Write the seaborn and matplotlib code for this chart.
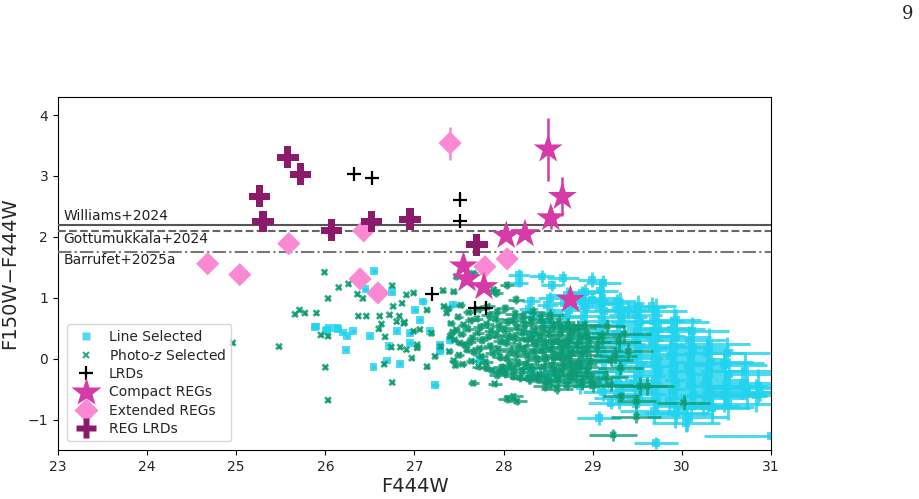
import matplotlib
matplotlib.use("Agg")
import matplotlib.pyplot as plt
from matplotlib.lines import Line2D
import seaborn as sns
import pandas as pd

# ---------------- data ----------------
# Line-selected sample (cyan squares)
line_x = [25.88, 25.90, 26.01, 26.02, 26.04, 26.13, 26.14, 26.20,
          26.23, 26.24, 26.31, 26.45, 26.50, 26.54, 26.55, 26.69,
          26.71, 26.75, 26.80, 26.84, 26.95, 26.95, 27.01, 27.06,
          27.10, 27.17, 27.23, 27.29, 27.29, 27.40, 27.43, 27.74,
          28.00, 28.17, 28.17, 28.43, 28.54, 28.67, 28.99, 29.08,
          28.88, 28.99, 29.12, 29.27, 29.40, 29.66, 29.94, 29.64,
          29.20, 29.07, 29.71, 31.00, 29.94, 30.05, 30.24, 30.34, 30.50, 30.73, 30.88, 30.47, 30.13,
          28.31, 28.28, 28.33, 28.30, 28.27, 28.34,
          28.52, 28.49, 28.53, 28.48, 28.51, 28.55, 28.50,
          28.71, 28.68, 28.73, 28.70, 28.66, 28.72, 28.69, 28.74, 28.71,
          28.91, 28.88, 28.93, 28.90, 28.87, 28.92, 28.89, 28.94, 28.90, 28.86,
          29.11, 29.08, 29.13, 29.10, 29.07, 29.12, 29.09, 29.14, 29.10, 29.06, 29.12,
          29.31, 29.28, 29.33, 29.30, 29.27, 29.32, 29.29, 29.34, 29.30, 29.26, 29.32, 29.29,
          29.51, 29.48, 29.53, 29.50, 29.47, 29.52, 29.49, 29.54, 29.50, 29.46, 29.52, 29.49,
          29.71, 29.68, 29.73, 29.70, 29.67, 29.72, 29.69, 29.74, 29.70, 29.66, 29.72, 29.69,
          29.91, 29.88, 29.93, 29.90, 29.87, 29.92, 29.89, 29.94, 29.90, 29.86, 29.92,
          30.11, 30.08, 30.13, 30.10, 30.07, 30.12, 30.09, 30.14, 30.10, 30.06,
          30.31, 30.28, 30.33, 30.30, 30.27, 30.32, 30.29, 30.34,
          30.51, 30.48, 30.53, 30.50, 30.47, 30.52,
          30.71, 30.68, 30.73,
          30.86, 30.83]
line_y = [0.52, 0.53, 0.46, 0.48, 0.50, 0.50, 0.49, 0.43,
          0.15, 0.37, 0.45, 1.14, 0.37, -0.14, 1.44, -0.03,
          0.21, 1.09, 0.46, -0.08, 0.42, 0.26, 0.80, 0.64,
          0.94, 0.45, -0.43, 0.23, 0.12, 0.31, 0.89, -0.02,
          -0.18, 1.38, 1.25, 1.35, 1.21, 1.32, 1.30, 1.12,
          1.08, 0.97, 1.24, 0.94, 0.80, 0.86, 0.64, 0.37,
          -0.73, -0.97, -1.38, -1.27, -0.89, -1.06, -0.78, -0.81, -0.62, -0.48, -0.54, -0.07, 0.20,
          0.95, 0.82, 0.70, 0.40, -0.15, -0.25,
          1.00, 0.88, 0.75, 0.60, 0.20, -0.20, -0.30,
          1.05, 0.92, 0.80, 0.68, 0.50, 0.30, 0.10, -0.10, -0.35,
          1.10, 0.95, 0.85, 0.70, 0.55, 0.35, 0.15, -0.05, -0.25, -0.45,
          1.00, 0.90, 0.78, 0.62, 0.45, 0.30, 0.15, 0.00, -0.20, -0.40, -0.55,
          0.92, 0.80, 0.68, 0.55, 0.40, 0.25, 0.10, -0.05, -0.20, -0.38, -0.52, -0.65,
          0.85, 0.72, 0.60, 0.45, 0.30, 0.18, 0.02, -0.12, -0.28, -0.42, -0.58, -0.75,
          0.78, 0.62, 0.50, 0.38, 0.22, 0.08, -0.05, -0.20, -0.35, -0.50, -0.65, -0.85,
          0.60, 0.48, 0.35, 0.20, 0.05, -0.10, -0.25, -0.40, -0.55, -0.70, -0.90,
          0.45, 0.30, 0.15, 0.00, -0.15, -0.30, -0.45, -0.60, -0.78, -0.95,
          0.25, 0.10, -0.05, -0.20, -0.35, -0.50, -0.65, -0.80,
          0.10, -0.10, -0.25, -0.45, -0.60, -0.75,
          -0.20, -0.40, -0.55,
          -0.45, -0.60]
line_xerr = [0.02, 0.02, 0.02, 0.02, 0.02, 0.02, 0.02, 0.02,
             0.02, 0.02, 0.02, 0.03, 0.02, 0.02, 0.03, 0.02,
             0.02, 0.03, 0.03, 0.03, 0.03, 0.03, 0.03, 0.03,
             0.04, 0.03, 0.04, 0.04, 0.04, 0.05, 0.05, 0.06,
             0.08, 0.12, 0.10, 0.14, 0.12, 0.18, 0.16, 0.20,
             0.15, 0.18, 0.20, 0.22, 0.24, 0.28, 0.27, 0.26,
             0.25, 0.25, 0.25, 0.75, 0.35, 0.38, 0.40, 0.42, 0.45, 0.50, 0.55, 0.45, 0.40,
             0.10, 0.11, 0.10, 0.12, 0.09, 0.10,
             0.13, 0.12, 0.14, 0.12, 0.13, 0.12, 0.14,
             0.16, 0.15, 0.17, 0.16, 0.15, 0.17, 0.16, 0.15, 0.17,
             0.19, 0.20, 0.18, 0.21, 0.19, 0.20, 0.18, 0.21, 0.20, 0.19,
             0.22, 0.24, 0.23, 0.21, 0.25, 0.22, 0.24, 0.23, 0.22, 0.25, 0.23,
             0.27, 0.26, 0.28, 0.25, 0.29, 0.27, 0.26, 0.28, 0.27, 0.29, 0.26, 0.28,
             0.31, 0.30, 0.33, 0.29, 0.32, 0.31, 0.30, 0.33, 0.31, 0.32, 0.30, 0.34,
             0.35, 0.34, 0.36, 0.33, 0.37, 0.35, 0.34, 0.36, 0.35, 0.37, 0.34, 0.38,
             0.39, 0.38, 0.40, 0.37, 0.41, 0.39, 0.38, 0.40, 0.39, 0.41, 0.42,
             0.42, 0.41, 0.44, 0.40, 0.43, 0.42, 0.41, 0.44, 0.42, 0.45,
             0.45, 0.44, 0.47, 0.43, 0.46, 0.45, 0.44, 0.47,
             0.48, 0.47, 0.50, 0.46, 0.49, 0.48,
             0.50, 0.49, 0.52,
             0.53, 0.52]
line_yerr = [0.03, 0.03, 0.03, 0.03, 0.03, 0.03, 0.03, 0.03,
             0.03, 0.03, 0.03, 0.04, 0.03, 0.03, 0.04, 0.03,
             0.03, 0.04, 0.04, 0.04, 0.04, 0.04, 0.04, 0.04,
             0.05, 0.04, 0.05, 0.05, 0.05, 0.06, 0.06, 0.06,
             0.07, 0.10, 0.08, 0.10, 0.09, 0.12, 0.13, 0.12,
             0.11, 0.12, 0.14, 0.13, 0.14, 0.15, 0.18, 0.16,
             0.10, 0.12, 0.10, 0.05, 0.18, 0.14, 0.16, 0.15, 0.18, 0.15, 0.16, 0.15, 0.18,
             0.08, 0.09, 0.08, 0.09, 0.08, 0.08,
             0.10, 0.09, 0.11, 0.10, 0.09, 0.10, 0.11,
             0.12, 0.11, 0.13, 0.12, 0.11, 0.13, 0.12, 0.11, 0.12,
             0.13, 0.14, 0.12, 0.15, 0.13, 0.14, 0.12, 0.15, 0.14, 0.13,
             0.15, 0.16, 0.14, 0.17, 0.15, 0.16, 0.14, 0.17, 0.15, 0.16, 0.14,
             0.17, 0.16, 0.18, 0.17, 0.19, 0.16, 0.18, 0.17, 0.19, 0.16, 0.18, 0.17,
             0.19, 0.18, 0.20, 0.19, 0.21, 0.18, 0.20, 0.19, 0.21, 0.18, 0.20, 0.19,
             0.21, 0.20, 0.22, 0.21, 0.23, 0.20, 0.22, 0.21, 0.23, 0.20, 0.22, 0.21,
             0.23, 0.22, 0.24, 0.23, 0.25, 0.22, 0.24, 0.23, 0.25, 0.22, 0.24,
             0.24, 0.23, 0.25, 0.24, 0.26, 0.23, 0.25, 0.24, 0.26, 0.23,
             0.25, 0.24, 0.26, 0.25, 0.27, 0.24, 0.26, 0.25,
             0.26, 0.25, 0.27, 0.26, 0.28, 0.25,
             0.27, 0.26, 0.28,
             0.28, 0.27]

# Photo-z selected sample (green crosses)
photz_x = [24.96, 25.48, 25.66, 25.71, 25.77, 25.90, 25.95, 25.99,
           26.00, 26.03, 26.03, 26.03, 26.15, 26.26, 26.36, 26.37,
           26.42, 26.46, 26.60, 26.61, 26.63, 26.66, 26.67, 26.72,
           26.74, 26.75, 26.75, 26.76, 26.83, 26.84, 26.86, 26.89,
           26.91, 26.91, 26.97, 26.99, 26.99, 27.03, 27.03, 27.06,
           27.14, 27.14, 27.19, 27.23, 27.29, 27.32, 27.33, 27.36,
           27.40, 27.44, 27.46, 27.47, 27.47, 27.51, 27.59, 27.66,
           27.66, 27.81, 27.89, 27.90, 27.92, 27.96, 28.04, 28.04,
           28.11, 28.11, 28.14, 28.15, 28.30, 28.47, 26.80, 26.88,
           27.38, 27.41, 27.43, 27.45, 27.39, 27.44,
           27.52, 27.49, 27.55, 27.53, 27.57, 27.50, 27.54,
           27.61, 27.63, 27.60, 27.65, 27.62, 27.67, 27.64,
           27.72, 27.70, 27.74, 27.71, 27.76, 27.73, 27.75, 27.72,
           27.82, 27.84, 27.81, 27.86, 27.83, 27.85, 27.88, 27.80, 27.87,
           27.93, 27.91, 27.95, 27.92, 27.97, 27.94, 27.96, 27.98, 27.93,
           28.02, 28.05, 28.01, 28.06, 28.03, 28.08, 28.04, 28.07, 28.02,
           28.13, 28.11, 28.15, 28.12, 28.17, 28.14, 28.16, 28.12, 28.18,
           28.22, 28.24, 28.21, 28.26, 28.23, 28.27, 28.25, 28.21, 28.28,
           28.33, 28.31, 28.35, 28.32, 28.36, 28.34, 28.38, 28.31, 28.37,
           28.42, 28.44, 28.41, 28.46, 28.43, 28.47, 28.45, 28.41, 28.48,
           28.52, 28.55, 28.51, 28.56, 28.53, 28.57, 28.54, 28.58, 28.52,
           28.62, 28.64, 28.61, 28.66, 28.63, 28.67, 28.65, 28.61,
           28.72, 28.74, 28.71, 28.76, 28.73, 28.77, 28.75,
           28.83, 28.86, 28.82, 28.87, 28.84, 28.81, 28.88,
           28.93, 28.96, 28.92, 28.97, 28.94, 28.98,
           29.23, 29.49, 29.49, 29.32, 30.02, 29.53, 29.20, 29.40, 29.29, 29.16, 28.91, 28.78,
           29.31, 29.05, 29.20, 28.86, 28.71, 29.61, 29.10, 29.25, 29.00, 29.15, 29.35, 28.60]
photz_y = [0.26, 0.20, 0.73, 0.80, 0.75, 0.75, 0.39, 1.42,
           -0.14, -0.68, 0.99, 0.37, 1.17, 1.23, 1.06, 0.70,
           0.99, 0.70, 0.49, 0.70, 0.57, -0.09, 0.36, 0.72,
           0.19, 1.20, -0.39, 0.86, 0.70, 0.19, 0.91, 0.60,
           0.15, 1.05, 0.01, 1.08, 0.45, 0.23, 0.18, 0.48,
           0.80, -0.13, 0.42, 0.04, 0.20, 1.12, 0.86, 0.75,
           0.37, 1.10, -0.11, 1.35, 0.48, 0.26, 0.15, 1.40,
           -0.40, -0.15, 1.13, -0.41, 1.08, -0.21, 1.21, -0.66,
           -0.62, -0.29, 0.97, -0.70, -0.34, -0.45, 0.61, 0.58,
           0.82, 0.58, 0.44, 0.31, 0.12, -0.03,
           0.88, 0.69, 0.56, 0.40, 0.22, 0.06, -0.09,
           0.76, 0.63, 0.49, 0.34, 0.27, 0.11, -0.04,
           0.81, 0.66, 0.52, 0.43, 0.30, 0.17, 0.04, -0.13,
           0.86, 0.71, 0.57, 0.46, 0.36, 0.21, 0.09, -0.06, -0.19,
           0.77, 0.65, 0.53, 0.39, 0.29, 0.16, 0.03, -0.14, -0.27,
           0.83, 0.61, 0.47, 0.37, 0.26, 0.13, 0.00, -0.11, -0.24,
           0.74, 0.63, 0.51, 0.34, 0.21, 0.07, -0.06, -0.17, -0.31,
           0.69, 0.56, 0.43, 0.31, 0.16, 0.04, -0.09, -0.21, -0.33,
           0.77, 0.61, 0.46, 0.33, 0.23, 0.11, -0.02, -0.16, -0.29,
           0.66, 0.51, 0.37, 0.26, 0.13, 0.01, -0.13, -0.26, -0.37,
           0.71, 0.54, 0.41, 0.29, 0.16, 0.03, -0.11, -0.23, -0.39,
           0.61, 0.46, 0.31, 0.19, 0.06, -0.07, -0.19, -0.34,
           0.56, 0.39, 0.26, 0.11, -0.01, -0.16, -0.29,
           0.51, 0.34, 0.21, 0.06, -0.09, -0.26, -0.39,
           0.42, 0.27, 0.13, -0.04, -0.21, -0.34,
           -1.25, -0.95, -0.70, -0.62, -0.72, -0.45, -0.43, 0.12, 0.28, 0.53, 0.56, 0.48,
           -0.15, 0.20, -0.02, -0.13, -0.43, -0.45, 0.35, 0.05, -0.45, -0.30, 0.40, -0.50]
photz_xerr = [0.02, 0.02, 0.02, 0.02, 0.02, 0.02, 0.02, 0.02,
              0.02, 0.02, 0.02, 0.02, 0.02, 0.02, 0.02, 0.02,
              0.02, 0.02, 0.02, 0.02, 0.02, 0.02, 0.02, 0.02,
              0.02, 0.02, 0.02, 0.02, 0.02, 0.02, 0.02, 0.02,
              0.02, 0.02, 0.02, 0.03, 0.03, 0.03, 0.03, 0.03,
              0.03, 0.03, 0.03, 0.03, 0.03, 0.03, 0.03, 0.03,
              0.04, 0.04, 0.04, 0.04, 0.04, 0.05, 0.05, 0.05,
              0.06, 0.06, 0.07, 0.08, 0.07, 0.08, 0.08, 0.10,
              0.11, 0.10, 0.09, 0.11, 0.12, 0.14, 0.02, 0.02,
              0.04, 0.04, 0.05, 0.04, 0.04, 0.05,
              0.05, 0.05, 0.06, 0.05, 0.05, 0.06, 0.05,
              0.06, 0.06, 0.07, 0.06, 0.07, 0.06, 0.06,
              0.07, 0.07, 0.08, 0.07, 0.07, 0.08, 0.07, 0.08,
              0.08, 0.09, 0.08, 0.08, 0.09, 0.08, 0.09, 0.08, 0.09,
              0.09, 0.10, 0.09, 0.10, 0.09, 0.10, 0.09, 0.10, 0.09,
              0.10, 0.11, 0.10, 0.11, 0.10, 0.11, 0.10, 0.11, 0.10,
              0.11, 0.12, 0.11, 0.12, 0.11, 0.12, 0.11, 0.12, 0.11,
              0.12, 0.13, 0.12, 0.14, 0.12, 0.13, 0.12, 0.14, 0.12,
              0.13, 0.14, 0.13, 0.15, 0.13, 0.14, 0.13, 0.15, 0.14,
              0.15, 0.16, 0.14, 0.16, 0.15, 0.17, 0.15, 0.16, 0.15,
              0.16, 0.18, 0.16, 0.17, 0.16, 0.18, 0.17, 0.18, 0.16,
              0.18, 0.19, 0.17, 0.20, 0.18, 0.19, 0.18, 0.20,
              0.19, 0.21, 0.19, 0.22, 0.20, 0.21, 0.20,
              0.21, 0.22, 0.20, 0.23, 0.21, 0.22, 0.21,
              0.22, 0.24, 0.22, 0.25, 0.23, 0.24,
              0.27, 0.28, 0.22, 0.20, 0.30, 0.30, 0.25, 0.28, 0.25, 0.20, 0.18, 0.15,
              0.25, 0.22, 0.25, 0.20, 0.18, 0.30, 0.22, 0.25, 0.22, 0.25, 0.30, 0.18]
photz_yerr = [0.03, 0.03, 0.03, 0.03, 0.03, 0.03, 0.03, 0.03,
              0.03, 0.03, 0.03, 0.03, 0.03, 0.03, 0.03, 0.03,
              0.03, 0.03, 0.03, 0.03, 0.03, 0.03, 0.03, 0.03,
              0.03, 0.03, 0.03, 0.03, 0.03, 0.03, 0.03, 0.03,
              0.03, 0.03, 0.03, 0.03, 0.03, 0.03, 0.03, 0.03,
              0.04, 0.04, 0.04, 0.04, 0.04, 0.04, 0.04, 0.04,
              0.04, 0.04, 0.04, 0.05, 0.04, 0.05, 0.05, 0.05,
              0.05, 0.05, 0.06, 0.05, 0.06, 0.06, 0.07, 0.06,
              0.06, 0.06, 0.07, 0.06, 0.07, 0.08, 0.03, 0.03,
              0.04, 0.04, 0.05, 0.04, 0.04, 0.05,
              0.05, 0.05, 0.05, 0.05, 0.05, 0.05, 0.05,
              0.05, 0.06, 0.05, 0.06, 0.05, 0.06, 0.05,
              0.06, 0.06, 0.06, 0.06, 0.06, 0.06, 0.06, 0.06,
              0.06, 0.07, 0.06, 0.07, 0.06, 0.07, 0.06, 0.07, 0.06,
              0.07, 0.07, 0.07, 0.07, 0.07, 0.07, 0.07, 0.07, 0.07,
              0.07, 0.08, 0.07, 0.08, 0.07, 0.08, 0.07, 0.08, 0.07,
              0.08, 0.08, 0.08, 0.08, 0.08, 0.08, 0.08, 0.08, 0.08,
              0.08, 0.09, 0.08, 0.09, 0.08, 0.09, 0.08, 0.09, 0.08,
              0.09, 0.09, 0.09, 0.09, 0.09, 0.09, 0.09, 0.09, 0.09,
              0.09, 0.10, 0.09, 0.10, 0.09, 0.10, 0.09, 0.10, 0.09,
              0.10, 0.10, 0.10, 0.10, 0.10, 0.10, 0.10, 0.10, 0.10,
              0.10, 0.11, 0.10, 0.11, 0.10, 0.11, 0.10, 0.11,
              0.11, 0.11, 0.11, 0.11, 0.11, 0.11, 0.11,
              0.12, 0.12, 0.12, 0.12, 0.12, 0.12, 0.12,
              0.12, 0.13, 0.12, 0.13, 0.12, 0.13,
              0.10, 0.10, 0.12, 0.08, 0.12, 0.15, 0.10, 0.15, 0.15, 0.12, 0.08, 0.10,
              0.12, 0.12, 0.10, 0.10, 0.08, 0.15, 0.12, 0.14, 0.10, 0.12, 0.15, 0.08]

# LRDs (black plus)
lrd_x = [26.32, 26.52, 27.51, 27.51, 27.20, 27.68, 27.80]
lrd_y = [3.03, 2.97, 2.61, 2.26, 1.07, 0.84, 0.84]
lrd_yerr = [0.0, 0.0, 0.12, 0.0, 0.0, 0.0, 0.0]

# Compact REGs (magenta stars)
creg_x = [28.50, 28.66, 28.53, 28.03, 28.24, 27.55, 27.59, 27.78, 28.75]
creg_y = [3.44, 2.66, 2.31, 2.02, 2.05, 1.52, 1.31, 1.18, 0.97]
creg_yerr = [0.52, 0.32, 0.18, 0.0, 0.05, 0.05, 0.0, 0.0, 0.0]

# Extended REGs (pink diamonds)
ereg_x = [24.68, 25.04, 25.59, 26.43, 26.39, 26.59, 27.40, 27.79, 28.04]
ereg_y = [1.56, 1.38, 1.89, 2.10, 1.31, 1.08, 3.54, 1.51, 1.64]
ereg_yerr = [0.0, 0.0, 0.0, 0.0, 0.0, 0.0, 0.27, 0.0, 0.0]

# REG LRDs (dark purple thick plus)
rlrd_x = [25.26, 25.30, 25.58, 25.72, 26.07, 26.52, 26.95, 27.70]
rlrd_y = [2.67, 2.25, 3.31, 3.03, 2.11, 2.25, 2.29, 1.87]

# Colour-cut reference lines
cut_names = ["Williams+2024", "Gottumukkala+2024", "Barrufet+2025a"]
cut_values = [2.2, 2.1, 1.75]
cut_label_y = [2.34, 1.97, 1.62]

# ---------------- styling ----------------
c_line = "#22d3ee"
c_phot = "#0e9b73"
c_star = "#d63aa6"
c_diam = "#fb88d2"
c_rlrd = "#8b1a6a"

sns.set_theme(style="ticks")
plt.rcParams["font.family"] = ["DejaVu Sans"]
plt.rcParams["xtick.direction"] = "out"
plt.rcParams["ytick.direction"] = "out"

fig = plt.figure(figsize=(9.2, 4.99), dpi=100)
ax = fig.add_axes([0.063, 0.098, 0.775, 0.708])

line_df = pd.DataFrame({"x": line_x, "y": line_y})
phot_df = pd.DataFrame({"x": photz_x, "y": photz_y})

# line-selected
ax.errorbar(line_x, line_y, xerr=line_xerr, yerr=line_yerr, fmt="none",
            ecolor=c_line, elinewidth=2.2, alpha=0.8, zorder=1)
sns.scatterplot(data=line_df, x="x", y="y", marker="s", s=32, color=c_line,
                alpha=0.8, edgecolor="none", ax=ax, zorder=2, legend=False)

# photo-z selected
ax.errorbar(photz_x, photz_y, xerr=photz_xerr, yerr=photz_yerr, fmt="none",
            ecolor=c_phot, elinewidth=2.0, alpha=0.8, zorder=3)
sns.scatterplot(data=phot_df, x="x", y="y", marker="X", s=30, color=c_phot,
                alpha=0.85, edgecolor="none", ax=ax, zorder=4, legend=False)

# colour cuts
styles = ["-", "--", "-."]
colors = ["#555555", "#666666", "#777777"]
for v, ls, cc, nm, ly in zip(cut_values, styles, colors, cut_names, cut_label_y):
    ax.axhline(v, color=cc, ls=ls, lw=1.5, zorder=5)
    ax.text(23.06, ly, nm, fontsize=10, va="center", ha="left", color="#222222", zorder=6)

# LRDs
ax.errorbar(lrd_x, lrd_y, yerr=lrd_yerr, fmt="none", ecolor="black", elinewidth=1.5, zorder=7)
sns.scatterplot(x=lrd_x, y=lrd_y, marker="+", s=110, color="black", linewidth=1.6,
                ax=ax, zorder=8, legend=False)

# Extended REGs
ax.errorbar(ereg_x, ereg_y, yerr=ereg_yerr, fmt="none", ecolor=c_diam, elinewidth=1.8, zorder=8)
sns.scatterplot(x=ereg_x, y=ereg_y, marker="D", s=140, color=c_diam, edgecolor="none",
                ax=ax, zorder=9, legend=False)

# Compact REGs
ax.errorbar(creg_x, creg_y, yerr=creg_yerr, fmt="none", ecolor=c_star, elinewidth=1.8, zorder=9)
sns.scatterplot(x=creg_x, y=creg_y, marker="*", s=480, color=c_star, edgecolor="none",
                ax=ax, zorder=10, legend=False)

# REG LRDs
sns.scatterplot(x=rlrd_x, y=rlrd_y, marker="P", s=240, color=c_rlrd, edgecolor="none",
                ax=ax, zorder=11, legend=False)

ax.set_xlim(23, 31)
ax.set_ylim(-1.5, 4.3)
ax.set_xticks([23, 24, 25, 26, 27, 28, 29, 30, 31])
ax.set_yticks([-1, 0, 1, 2, 3, 4])
ax.tick_params(labelsize=10, length=3.5, width=0.8, color="black")
for sp in ax.spines.values():
    sp.set_visible(True)
    sp.set_color("black")
    sp.set_linewidth(0.8)
ax.set_xlabel("F444W", fontsize=14, labelpad=2)
ax.set_ylabel("F150W\u2212F444W", fontsize=14, labelpad=6)

handles = [
    Line2D([], [], ls="none", marker="s", ms=6, color=c_line, alpha=0.8, mec="none"),
    Line2D([], [], ls="none", marker="x", ms=5, mew=1.5, color=c_phot, alpha=0.85),
    Line2D([], [], ls="none", marker="+", ms=10, mew=1.6, color="black"),
    Line2D([], [], ls="none", marker="*", ms=22, color=c_star, mec="none"),
    Line2D([], [], ls="none", marker="D", ms=12, color=c_diam, mec="none"),
    Line2D([], [], ls="none", marker="P", ms=15, color=c_rlrd, mec="none"),
]
labels = ["Line Selected", "Photo-$z$ Selected", "LRDs", "Compact REGs",
          "Extended REGs", "REG LRDs"]
ax.legend(handles, labels, loc="lower left", fontsize=10, frameon=True,
          handletextpad=0.6, labelspacing=0.3, borderpad=0.4,
          bbox_to_anchor=(0.003, 0.005))

fig.text(0.987, 0.972, "9", fontsize=13, family="DejaVu Serif", ha="center", va="center")

fig.savefig("out.png", dpi=100)
